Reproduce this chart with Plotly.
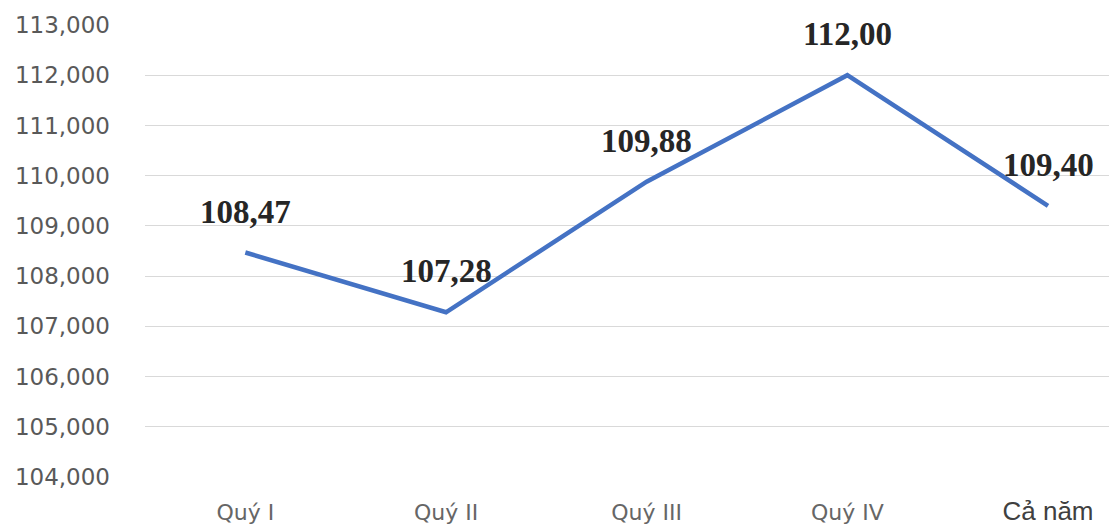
import plotly.graph_objects as go

categories = ["Quý I", "Quý II", "Quý III", "Quý IV", "Cả năm"]
values = [108.47, 107.28, 109.88, 112.00, 109.40]
y_ticks = [104, 105, 106, 107, 108, 109, 110, 111, 112, 113]

tick_text = categories[:-1] + [
    "<span style='font-family:Liberation Sans;font-size:26px;fill:#404040'>" + categories[-1] + "</span>"
]

fig = go.Figure()
fig.add_trace(go.Scatter(
    x=list(range(len(categories))),
    y=values,
    mode="lines",
    line=dict(color="#4472C4", width=4.5),
    hoverinfo="skip",
))

for i, v in enumerate(values):
    fig.add_annotation(
        x=i, y=v,
        text="<b>" + f"{v:.2f}".replace(".", ",") + "</b>",
        showarrow=False,
        yshift=41,
        yanchor="middle",
        font=dict(family="Liberation Serif", size=33, color="#262626"),
    )

fig.update_layout(
    width=1109, height=529,
    margin=dict(l=145, r=0, t=25, b=52),
    plot_bgcolor="white",
    paper_bgcolor="white",
    showlegend=False,
    separators=", ",
    xaxis=dict(
        range=[-0.5, 4.304],
        tickmode="array",
        tickvals=list(range(len(categories))),
        ticktext=tick_text,
        showgrid=False,
        zeroline=False,
        showline=False,
        tickfont=dict(family="DejaVu Sans", size=22, color="#666666"),
        ticklabelstandoff=20,
    ),
    yaxis=dict(
        range=[104, 113],
        tickmode="array",
        tickvals=y_ticks,
        tickformat=".3f",
        showgrid=True,
        gridcolor="#d9d9d9",
        gridwidth=1.3,
        zeroline=False,
        showline=False,
        tickfont=dict(family="DejaVu Sans", size=23, color="#595959"),
        ticklabelstandoff=34,
    ),
)

fig.write_html("out.html")
